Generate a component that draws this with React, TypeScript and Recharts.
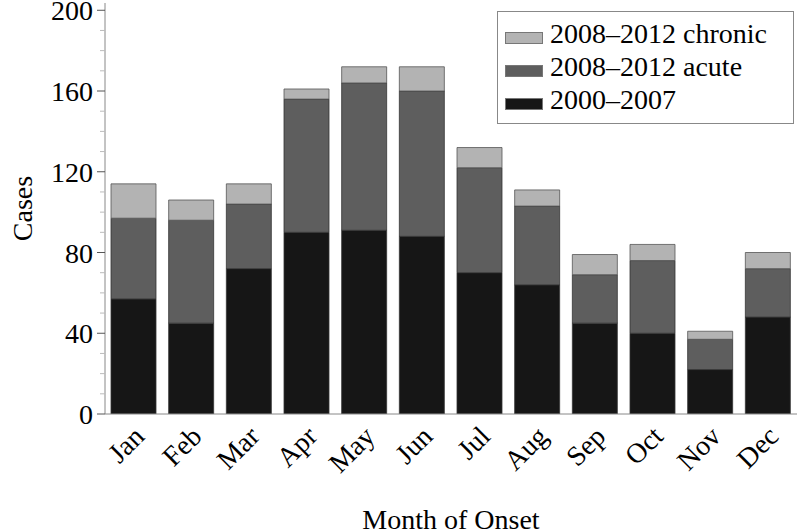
import React from 'react';
import { BarChart, Bar, XAxis, YAxis } from 'recharts';

const months = ['Jan', 'Feb', 'Mar', 'Apr', 'May', 'Jun', 'Jul', 'Aug', 'Sep', 'Oct', 'Nov', 'Dec'];
// Stacked segment values (cases)
const early = [57, 45, 72, 90, 91, 88, 70, 64, 45, 40, 22, 48];          // 2000–2007
const acute = [40, 51, 32, 66, 73, 72, 52, 39, 24, 36, 15, 24];           // 2008–2012 acute
const chronic = [17, 10, 10, 5, 8, 12, 10, 8, 10, 8, 4, 8];               // 2008–2012 chronic
const yTicks = [0, 10, 20, 30, 40, 50, 60, 70, 80, 90, 100, 110, 120, 130, 140, 150, 160, 170, 180, 190, 200];

const seriesNames = { early: '2000–2007', acute: '2008–2012 acute', chronic: '2008–2012 chronic' };
const colors = { early: '#161616', acute: '#5e5e5e', chronic: '#b3b3b3' };

const data = months.map((m, i) => ({ month: m, early: early[i], acute: acute[i], chronic: chronic[i] }));

const FONT = '"Liberation Serif", "Times New Roman", serif';

const YTick = (props: any) => {
  const { x, y, payload } = props;
  const major = payload.value % 40 === 0;
  return (
    <g>
      <line x1={x - (major ? 8 : 5)} x2={x} y1={y} y2={y} stroke={major ? '#555' : '#bbb'} strokeWidth={1} />
      {major && (
        <text x={x - 12} y={y} dy={10} textAnchor="end" fontSize={28} fontFamily={FONT} fill="#000">
          {payload.value}
        </text>
      )}
    </g>
  );
};

const XTick = (props: any) => {
  const { x, y, payload } = props;
  const ax = x + 12;
  const ay = y + 24;
  return (
    <text x={ax} y={ay} textAnchor="end" fontSize={28} fontFamily={FONT} fill="#000" transform={`rotate(-45, ${ax}, ${ay})`}>
      {payload.value}
    </text>
  );
};

const legendItems: ('chronic' | 'acute' | 'early')[] = ['chronic', 'acute', 'early'];

export default function App() {
  return (
    <div style={{ position: 'absolute', left: 0, top: 0, width: 800, height: 530, background: '#fff' }}>
      <BarChart width={800} height={530} data={data} margin={{ top: 3, right: 3, left: 0, bottom: 0 }} barSize={45}>
        <XAxis
          dataKey="month"
          height={116}
          tickLine={false}
          tickSize={0}
          tickMargin={0}
          axisLine={{ stroke: '#888' }}
          tick={<XTick />}
          interval={0}
          label={{ value: 'Month of Onset', position: 'insideBottom', offset: 1, fontSize: 28, fontFamily: FONT, fill: '#000' }}
        />
        <XAxis xAxisId="top" orientation="top" dataKey="month" height={0} tick={false} tickLine={false} axisLine={{ stroke: '#888' }} />
        <YAxis
          width={105}
          domain={[0, 203.6]}
          ticks={yTicks}
          interval={0}
          tickLine={false}
          tickSize={0}
          tickMargin={0}
          axisLine={{ stroke: '#888' }}
          tick={<YTick />}
          allowDataOverflow
          label={{ value: 'Cases', angle: -90, position: 'insideLeft', offset: 22, fontSize: 28, fontFamily: FONT, fill: '#000', style: { textAnchor: 'middle' } }}
        />
        <YAxis yAxisId="right" orientation="right" width={0} tick={false} tickLine={false} axisLine={{ stroke: '#888' }} />
        <Bar dataKey="early" stackId="a" name={seriesNames.early} fill={colors.early} stroke="#333" strokeWidth={0.8} isAnimationActive={false} />
        <Bar dataKey="acute" stackId="a" name={seriesNames.acute} fill={colors.acute} stroke="#333" strokeWidth={0.8} isAnimationActive={false} />
        <Bar dataKey="chronic" stackId="a" name={seriesNames.chronic} fill={colors.chronic} stroke="#555" strokeWidth={0.8} isAnimationActive={false} />
      </BarChart>
      <div
        style={{
          position: 'absolute',
          left: 497,
          top: 11,
          width: 297,
          height: 113,
          border: '1px solid #888',
          boxSizing: 'border-box',
          fontFamily: FONT,
          fontSize: 28,
          color: '#000',
          paddingTop: 5,
        }}
      >
        {legendItems.map((key) => (
          <div key={key} style={{ display: 'flex', alignItems: 'flex-start', height: 33, marginLeft: 7 }}>
            <span
              style={{
                display: 'inline-block',
                flex: 'none',
                width: 38,
                height: 12,
                marginTop: 15,
                background: colors[key],
                border: '1px solid #777',
                boxSizing: 'border-box',
                marginRight: 7,
              }}
            />
            <span style={{ lineHeight: '33px', whiteSpace: 'nowrap' }}>{seriesNames[key]}</span>
          </div>
        ))}
      </div>
    </div>
  );
}
